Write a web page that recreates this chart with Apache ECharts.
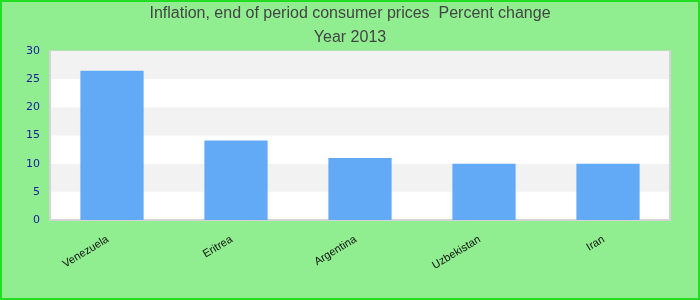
<!DOCTYPE html>
<html>
<head>
<meta charset="utf-8">
<script src="https://cdn.jsdelivr.net/npm/echarts@6/dist/echarts.min.js"></script>
<style>
html,body{margin:0;padding:0;}
#c{width:700px;height:300px;box-sizing:border-box;border:2px solid #22dd22;background:#90ee90;}
</style>
</head>
<body>
<div id="c"></div>
<script>
const titleLine1 = 'Inflation, end of period consumer prices  Percent change';
const titleLine2 = 'Year 2013';
const categories = ['Venezuela', 'Eritrea', 'Argentina', 'Uzbekistan', 'Iran'];
const values = [26.5, 14.1, 11.0, 10.0, 10.0];
const yTicks = [0, 5, 10, 15, 20, 25, 30];

const borderLine = {show: true, lineStyle: {color: '#d4d4d4', width: 2}};
const chart = echarts.init(document.getElementById('c'), null, {renderer: 'canvas'});
chart.setOption({
  backgroundColor: '#90ee90',
  animation: false,
  title: [
    {text: titleLine1, left: 'center', top: -1, textStyle: {fontFamily: 'Liberation Sans', fontSize: 16, fontWeight: 'normal', color: '#444444'}},
    {text: titleLine2, left: 'center', top: 23, textStyle: {fontFamily: 'Liberation Sans', fontSize: 16, fontWeight: 'normal', color: '#444444'}}
  ],
  grid: {left: 48, right: 28, top: 49, bottom: 78, show: true, borderColor: '#d4d4d4', borderWidth: 1, backgroundColor: '#ffffff'},
  xAxis: [{
    type: 'category',
    data: categories,
    axisLine: borderLine,
    axisTick: {show: false},
    axisLabel: {rotate: 31, margin: 16, padding: [0, 5, 0, 0], fontFamily: 'Liberation Sans', fontSize: 11, color: '#111'}
  }, {
    type: 'category',
    position: 'top',
    data: categories,
    axisLine: borderLine,
    axisTick: {show: false},
    axisLabel: {show: false}
  }],
  yAxis: [{
    type: 'value',
    min: yTicks[0],
    max: yTicks[yTicks.length - 1],
    interval: 5,
    axisLine: borderLine,
    axisTick: {show: false},
    splitLine: {show: false},
    splitArea: {show: true, areaStyle: {color: ['#ffffff', '#f2f2f2']}},
    axisLabel: {margin: 10, fontFamily: 'DejaVu Sans', fontSize: 11, color: '#1a1aa0'}
  }, {
    type: 'value',
    position: 'right',
    min: yTicks[0],
    max: yTicks[yTicks.length - 1],
    interval: 5,
    axisLine: borderLine,
    axisTick: {show: false},
    splitLine: {show: false},
    axisLabel: {show: false}
  }],
  series: [{
    type: 'bar',
    data: values,
    barWidth: '51%',
    itemStyle: {color: '#62aaf5'}
  }]
});
</script>
</body>
</html>
